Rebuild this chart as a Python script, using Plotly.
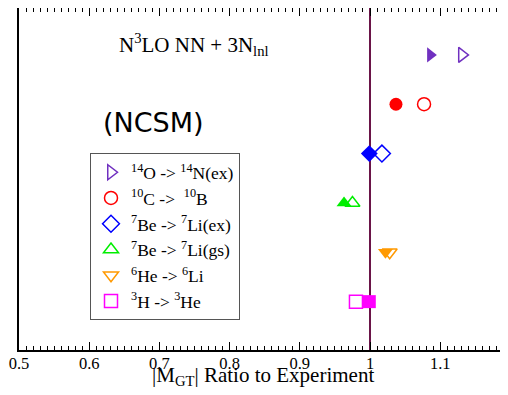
import plotly.graph_objects as go

labels = ["<sup>14</sup>O -> <sup>14</sup>N(ex)", "<sup>10</sup>C ->  <sup>10</sup>B",
          "<sup>7</sup>Be -> <sup>7</sup>Li(ex)", "<sup>7</sup>Be -> <sup>7</sup>Li(gs)",
          "<sup>6</sup>He -> <sup>6</sup>Li", "<sup>3</sup>H -> <sup>3</sup>He"]
rows = [6, 5, 4, 3, 2, 1]
filled_vals = [1.086, 1.037, 0.999, 0.963, 1.022, 0.999]
open_vals = [1.131, 1.077, 1.017, 0.975, 1.028, 0.980]
colors = ["#7030c0", "#ff0000", "#0000ff", "#00ee00", "#ff9900", "#ff00ff"]
sym_filled = ["triangle-right", "circle", "diamond", "triangle-up", "triangle-down", "square"]
sym_open = [s + "-open" for s in sym_filled]

fig = go.Figure()
for i in range(6):
    fig.add_trace(go.Scatter(x=[filled_vals[i]], y=[rows[i]], mode="markers",
                             marker=dict(symbol=sym_filled[i], color=colors[i], size=13),
                             showlegend=False))
    fig.add_trace(go.Scatter(x=[open_vals[i]], y=[rows[i]], mode="markers", name=labels[i],
                             marker=dict(symbol=sym_open[i], color=colors[i], size=13,
                                         line=dict(width=1.5, color=colors[i]))))

fig.add_shape(type="line", x0=1, x1=1, y0=0, y1=1, xref="x", yref="paper",
              line=dict(color="#6a1448", width=2), layer="below")

fig.add_annotation(x=0.364, y=0.892, xref="paper", yref="paper", showarrow=False,
                   xanchor="center", yanchor="middle",
                   text="N<sup>3</sup>LO NN + 3N<sub>lnl</sub>",
                   font=dict(family="Liberation Serif", size=21, color="black"))
fig.add_annotation(x=0.279, y=0.664, xref="paper", yref="paper", showarrow=False,
                   xanchor="center", yanchor="middle",
                   text="(NCSM)", font=dict(family="DejaVu Sans", size=27, color="black"))
fig.add_annotation(x=(263 - 19) / 481, y=-0.077, xref="paper", yref="paper", showarrow=False,
                   xanchor="center", yanchor="middle",
                   text="|M<sub>GT</sub>| Ratio to Experiment",
                   font=dict(family="Liberation Serif", size=21, color="black"))

fig.update_layout(
    width=492, height=379,
    margin=dict(l=11, r=0, t=0, b=37),
    plot_bgcolor="white", paper_bgcolor="white",
    font=dict(family="Liberation Serif", color="black"),
    legend=dict(x=(90 - 19) / 481, y=0.575, xanchor="left", yanchor="top",
                bordercolor="#555555", borderwidth=1, bgcolor="white",
                font=dict(family="Liberation Serif", size=17.5), tracegroupgap=0,
                itemwidth=30),
    xaxis=dict(range=[0.5, 0.5 + 481 / 702], showgrid=False, zeroline=False,
               showline=True, linecolor="black", linewidth=1.5, mirror="allticks",
               ticks="inside", ticklen=8, tickwidth=1, tickcolor="black",
               dtick=0.1, tick0=0.5, tickformat="~g", automargin=False,
               ticklabelstandoff=-3,
               tickfont=dict(family="Liberation Serif", size=16.5),
               minor=dict(ticks="inside", ticklen=4, dtick=0.01, tickcolor="black", tickwidth=1)),
    yaxis=dict(range=[0.02, 6.95], showgrid=False, zeroline=False, showticklabels=False,
               showline=True, linecolor="black", linewidth=1.5, mirror=False, ticks=""),
)
fig.add_shape(type="line", x0=1, x1=1, y0=0.012, y1=0.988, xref="paper", yref="paper",
              line=dict(color="white", width=4), layer="above")

fig.write_html("out.html")
